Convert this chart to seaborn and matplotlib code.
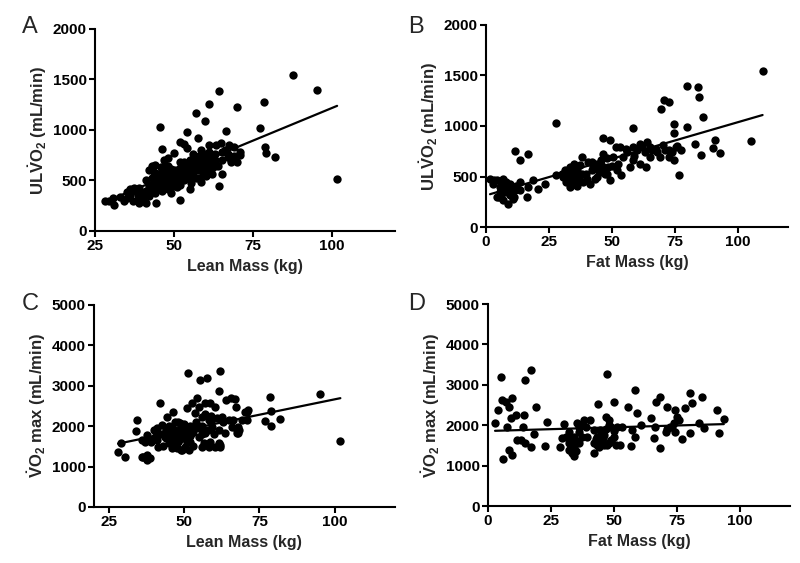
import matplotlib
matplotlib.use('Agg')
import matplotlib.pyplot as plt
import seaborn as sns

# Panel A: lean mass (kg) vs ULVO2 (mL/min)
lean_a = [87.6, 95.1, 78.6, 70.0, 64.3, 61.0, 57.0, 59.8, 45.4, 77.2, 66.5, 54.0, 57.7, 51.9, 53.2, 46.0,
          50.0, 48.0, 54.2, 58.4, 61.1, 64.8, 67.4, 65.3, 66.9, 70.8, 67.9, 70.7, 78.8, 79.0, 82.0, 101.6,
          64.2, 65.1, 55.3, 58.4, 51.9, 29.4, 31.0, 30.5, 28.0, 35.2, 37.3, 38.4, 40.5, 41.0, 44.2, 38.4,
          43.1, 43.7, 46.8, 45.8, 63.3, 60.0, 62.0, 69.0,
          33, 34, 36, 36, 37, 39, 39, 40, 41, 41, 42, 42, 43, 43, 44, 44, 45, 45, 46, 46,
          46, 47, 47, 47, 48, 48, 48, 49, 49, 49, 50, 50, 50, 51, 51, 52, 52, 52, 53, 53,
          54, 54, 55, 55, 56, 56, 57, 57, 57, 58, 58, 59, 59, 60, 60, 61, 61, 62, 62, 63,
          63, 64, 65, 66, 67, 68, 69, 70, 42, 44, 53, 56, 55, 58, 60,
          44, 45, 46, 47, 48, 49, 50, 50, 51, 51, 52, 53, 54, 55, 56, 57, 58, 59, 60, 61,
          62, 63, 40, 38, 35, 48, 52, 46]
ulvo2_a = [1548, 1396, 1280, 1231, 1389, 1254, 1165, 1092, 1030, 1016, 990, 983, 917, 884, 861, 810,
           769, 720, 819, 802, 851, 868, 851, 785, 736, 752, 686, 785, 835, 769, 736, 512,
           446, 561, 472, 488, 307, 300, 257, 324, 300, 389, 422, 356, 373, 274, 274, 307,
           644, 587, 703, 637, 848, 760, 720, 830,
           340, 300, 420, 360, 300, 280, 430, 330, 400, 500, 450, 350, 520, 420, 480, 380, 560, 440, 500, 600,
           400, 460, 540, 650, 420, 500, 580, 380, 470, 610, 520, 560, 450, 600, 500, 540, 620, 460, 580, 500,
           650, 560, 600, 700, 540, 640, 700, 600, 520, 660, 740, 580, 700, 640, 540, 700, 780, 620, 560, 700,
           760, 640, 700, 800, 760, 700, 740, 680, 600, 650, 680, 760, 420, 520, 600,
           560, 500, 460, 580, 460, 540, 600, 480, 560, 440, 500, 540, 600, 520, 600, 660, 600, 640, 700, 640,
           680, 640, 360, 400, 330, 640, 680, 540]

# Panel B: fat mass (kg) vs ULVO2 (mL/min)
fat_b = [109.9, 79.8, 84.1, 84.5, 69.6, 70.7, 72.7, 74.9, 79.8, 86.1, 58.4, 28.0, 11.5, 13.7, 16.5, 105.3,
         90.8, 90.1, 93.0, 85.4, 76.6, 83.0, 74.9, 46.5, 49.1,
         1.6, 4.2, 6.9, 8.2, 5.5, 4.2, 6.9, 8.7, 10.8, 11.5, 13.5, 16.4, 16.8, 18.8, 20.7, 23.4,
         13.5, 9.5, 5.5, 2.9, 7.5, 9.5, 6.2,
         28.0, 30.6, 31.9, 33.3, 34.6, 35.3, 36.6, 37.3, 38.6, 39.9, 41.2, 42.5, 43.2, 44.5, 45.8, 46.5,
         47.2, 48.5, 49.1, 50.5, 51.8, 52.4, 53.8, 33.3, 31.3, 38.0, 35.0, 40.5, 42.0, 46.0, 48.0, 44.0,
         36.0, 52.0, 30.0, 34.0,
         53.1, 55.7, 58.4, 61.0, 63.0, 65.0, 67.6, 70.3, 72.9, 75.6, 77.5, 58.4, 61.0, 65.0, 69.0, 72.9,
         74.9, 63.7, 57.1, 54.6, 56.0, 60.0, 62.0, 66.0, 68.0, 71.0, 74.0, 59.0, 76.0, 64.0,
         32, 34, 36, 38, 40, 42, 44, 46, 48, 50, 33, 37, 5, 7, 9, 11, 8, 3, 12, 6]
ulvo2_b = [1547, 1395, 1389, 1283, 1164, 1256, 1240, 1018, 992, 1091, 985, 1031, 754, 668, 721, 850,
           866, 783, 734, 711, 512, 826, 926, 886, 866,
           479, 463, 479, 397, 347, 298, 264, 231, 281, 364, 364, 298, 397, 463, 380, 430,
           446, 430, 397, 430, 347, 314, 446,
           512, 496, 446, 397, 562, 463, 529, 612, 446, 529, 430, 595, 479, 562, 661, 727,
           529, 595, 463, 694, 793, 628, 512, 595, 562, 694, 620, 640, 560, 600, 680, 500,
           410, 560, 520, 500,
           793, 777, 793, 826, 744, 793, 777, 810, 760, 793, 760, 661, 628, 694, 694, 694,
           661, 595, 595, 694, 740, 760, 800, 760, 740, 760, 740, 700, 800, 840,
           520, 450, 560, 520, 480, 640, 620, 540, 520, 600, 470, 480, 300, 380, 360, 300, 450, 470, 410, 330]

# Panel C: lean mass (kg) vs VO2 max (mL/min)
lean_c = [101.9, 95, 78.4, 78.9, 78.7, 82, 77, 61.8, 55.2, 57.6, 51.3, 61.6, 41.9, 34.4, 34, 29.1,
          28, 30.3, 37.7, 36.1, 62, 61.5, 67, 65.4, 64, 70.9, 67.4, 54.3, 58.2, 56.5, 46, 48.8, 51.5,
          37.6, 37, 35.9, 37.6, 38.7, 36.4, 40.9, 42.6, 44.2, 46.4, 40.3, 41.4, 43.7, 44.8, 45.9,
          47, 48.7, 49.8, 48.1, 50.3, 52, 47.6, 49.2, 50.9, 52.6, 53.7, 54.8, 57, 58.7, 60.3,
          55.9, 58.1, 59.2, 57, 54.8, 53.7, 52.6, 55.9, 58.7, 61.4, 62.6, 63.7, 64.8, 65.9, 67.6,
          62, 60.3, 68.1, 69.2,
          67.3, 70.1, 71.2, 70.7, 67.9, 67.9, 66.2,
          45, 46, 47, 48, 49, 50, 51, 50, 46, 44, 43, 52, 53, 39, 40, 38, 56, 57, 59, 60, 58,
          44, 45, 46, 47, 48, 49, 50, 51, 52, 53, 54, 55, 48, 42, 41, 43, 56, 59, 61, 63]
vo2max_c = [1635, 2805, 2722, 2365, 2009, 2175, 2117, 3378, 3154, 3196, 3320, 2864, 2573, 2158, 1892, 1594,
            1361, 1245, 1162, 1245, 1494, 1577, 2673, 2698, 2650, 2349, 1826, 2698, 1494, 1577, 1453, 1411, 1411,
            1782, 1617, 1658, 1287, 1205, 1245, 1948, 2030, 2235, 2359, 1740, 1493, 1740, 1576, 1906,
            2111, 2071, 1824, 1658, 1493, 1617, 1452, 1411, 2443, 2567, 2319, 2483, 2567, 2567, 2483,
            2235, 2153, 1988, 1824, 1740, 1988, 1824, 1493, 1617, 1906, 2235, 1824, 2153, 1988, 1906,
            1535, 1493, 1906, 2153,
            2483, 2359, 2400, 2153, 1988, 1824, 2153,
            1800, 1950, 1700, 1850, 2000, 1700, 1900, 2050, 1600, 1900, 1800, 1750, 1500, 1600, 1900,
            1700, 2000, 2300, 2250, 1800, 1900,
            1700, 2000, 1750, 1900, 1600, 1750, 1900, 1600, 2000, 1850, 2100, 1950, 2100, 1800, 1650,
            1500, 1800, 2100, 2200, 2100]

# Panel D: fat mass (kg) vs VO2 max (mL/min)
fat_d = [2.8, 4, 5.3, 5.7, 7, 8.3, 9.7, 6.1, 8.3, 9.7, 7.7, 9, 11, 14.3, 11.6, 13, 14.9, 17.2, 14.9,
         18.9, 18.3, 16.9, 14, 23.5, 22.5, 47.4, 58.6,
         30.2, 32.1, 32.8, 34.1, 32.1, 33.5, 35.4, 36.1, 37.4, 38.8, 39.4, 29.5, 28.8, 40.7, 38.1,
         42.1, 43.4, 42.1, 43.4, 43.8, 44.7, 44.7, 45.8, 46.7, 48, 48.7, 50, 51.3, 50, 47.1, 48.7,
         50.7, 52.6, 55.7, 53.3, 56.9, 59.3, 57.3, 58.6, 60.6,
         64.6, 66.6, 66.1, 68.3, 66.5, 68.5, 71.2, 70.9, 74.5, 75.1, 72.5, 73.8, 75.8, 74.5, 77.1,
         78.4, 80.4, 81.1, 80.4, 85.1, 83.7, 85.7, 91, 91.7, 93.7,
         33, 34, 35, 31, 44, 45, 46, 47, 49, 43, 48, 36, 37, 71, 73,
         42, 44, 45, 46, 48, 50, 33, 34, 32, 35, 36, 34]
vo2max_d = [2065, 2379, 3188, 2627, 2585, 2461, 2668, 1165, 1388, 1264, 1966, 2172, 2255, 2255, 1636,
            1636, 1553, 3370, 3122, 2461, 1776, 1470, 1966, 2090, 1487, 3271, 2875,
            2024, 1842, 1677, 1470, 1388, 1305, 2049, 1842, 1718, 1966, 1718, 1677, 1470, 2131, 2131,
            1883, 1718, 1305, 1512, 2528, 1883, 1553, 1677, 2214, 2131, 1966, 1718, 1966, 2569, 1512, 1636,
            1512, 1512, 2461, 1966, 1487, 2296, 1883, 1718, 2007,
            2172, 2585, 1677, 2709, 1966, 1429, 2461, 1842, 2379, 2214, 1966, 2049, 2131, 1842, 1652,
            2420, 2792, 2544, 1801, 2709, 2065, 1925, 2379, 1817, 2148,
            1500, 1350, 1600, 1700, 1600, 1800, 1500, 1900, 1600, 1650, 2000, 1950, 2000, 1900, 1950,
            1550, 1450, 1650, 1750, 1550, 1850, 1450, 1700, 1550, 1350, 1550, 1250]

sns.set_style('ticks')
plt.rcParams['font.family'] = ['Liberation Sans', 'DejaVu Sans']
plt.rcParams['font.weight'] = 'bold'
plt.rcParams['mathtext.fontset'] = 'custom'
plt.rcParams['mathtext.rm'] = 'Liberation Sans:bold'
plt.rcParams['mathtext.it'] = 'Liberation Sans:bold'
plt.rcParams['mathtext.bf'] = 'Liberation Sans:bold'

fig = plt.figure(figsize=(8, 5.63), dpi=100)


def panel(rect, x, y, xlim, xticks, ylim, yticks, xlabel, ylabel, letter, lpos):
    ax = fig.add_axes(rect)
    sns.regplot(x=x, y=y, ax=ax, ci=None, color='black',
                scatter_kws={'s': 36, 'linewidths': 0, 'alpha': 1},
                line_kws={'lw': 1.6})
    ax.set_xlim(*xlim)
    ax.set_ylim(*ylim)
    ax.set_xticks(xticks)
    ax.set_yticks(yticks)
    for s in ['top', 'right']:
        ax.spines[s].set_visible(False)
    for s in ['left', 'bottom']:
        ax.spines[s].set_linewidth(1.5)
        ax.spines[s].set_color('black')
    ax.tick_params(direction='out', length=4, width=1.5, labelsize=11, colors='black', pad=2)
    for t in ax.get_xticklabels() + ax.get_yticklabels():
        t.set_fontweight('bold')
    ax.set_xlabel(xlabel, fontsize=11.5, fontweight='bold', labelpad=4)
    ax.set_ylabel(ylabel, fontsize=12, fontweight='bold', labelpad=3)
    fig.text(lpos[0], lpos[1], letter, fontsize=17, fontweight='normal', va='baseline')
    return ax


ul_label = r'UL$\dot{V}\mathrm{O}_2$ (mL/min)'
max_label = r'$\dot{V}\mathrm{O}_2$ max (mL/min)'

panel([0.119, 0.5897, 0.375, 0.3588], lean_a, ulvo2_a, (25, 120), [25, 50, 75, 100],
      (0, 2000), [0, 500, 1000, 1500, 2000], 'Lean Mass (kg)', ul_label, 'A', (0.027, 1 - 33 / 563))
panel([0.6075, 0.5968, 0.3775, 0.3588], fat_b, ulvo2_b, (0, 120), [0, 25, 50, 75, 100],
      (0, 2000), [0, 500, 1000, 1500, 2000], 'Fat Mass (kg)', ul_label, 'B', (0.51, 1 - 33 / 563))
panel([0.1175, 0.0995, 0.376, 0.3588], lean_c, vo2max_c, (20, 120), [25, 50, 75, 100],
      (0, 5000), [0, 1000, 2000, 3000, 4000, 5000], 'Lean Mass (kg)', max_label, 'C', (0.027, 1 - 310 / 563))
panel([0.61, 0.1012, 0.3775, 0.3588], fat_d, vo2max_d, (0, 120), [0, 25, 50, 75, 100],
      (0, 5000), [0, 1000, 2000, 3000, 4000, 5000], 'Fat Mass (kg)', max_label, 'D', (0.51, 1 - 310 / 563))

fig.savefig('out.png', dpi=100)
